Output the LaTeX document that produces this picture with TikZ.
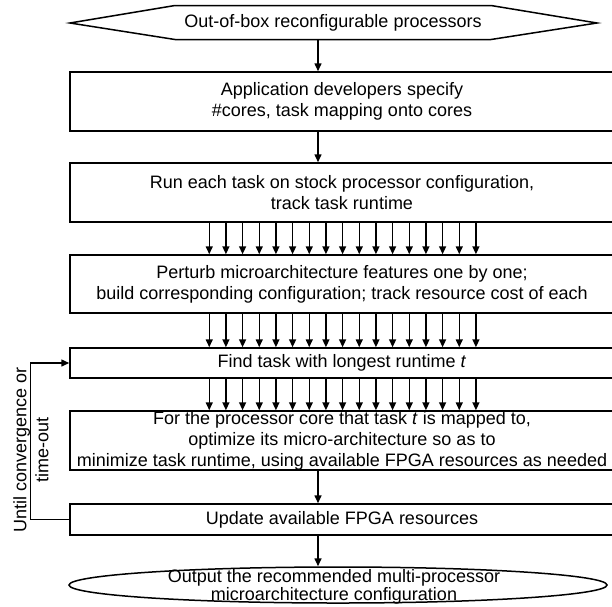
\documentclass[tikz,border=0pt]{standalone}
\usepackage{fontspec}
\setmainfont{Liberation Sans}
\usetikzlibrary{arrows.meta,calc,shapes.geometric}
\begin{document}
\begin{tikzpicture}[x=1pt,y=-1pt,
  line width=1.5pt,
  arr/.style={-{Triangle[length=8pt,width=7pt]}},
  txt/.style={font=\fontsize{18}{21}\selectfont, align=center, inner sep=0pt},
  box/.style={txt, draw, rectangle, minimum width=544pt}]
\useasboundingbox (0,0) rectangle (612,606);

% start hexagon
\draw (70,23) -- (175,5.5) -- (491,5.5) -- (597,23) -- (491,39.5) -- (175,39.5) -- cycle;
\node[txt] (start) at (333,22.5) {Out-of-box reconfigurable processors};
\coordinate (startbot) at (318,39.5);

\node[box, minimum height=59pt] (b1) at (342,101.5) {Application developers specify\\\#cores, task mapping onto cores};
\node[box, minimum height=59pt] (b2) at (342,192.5) {Run each task on stock processor configuration,\\track task runtime};
\node[box, minimum height=58pt] (b3) at (342,284) {Perturb microarchitecture features one by one;\\build corresponding configuration; track resource cost of each};
\node[box, minimum height=30pt] (b4) at (342,363) {Find task with longest runtime \textit{t}};
\node[box, minimum height=59pt] (b5) at (342,440.5) {For the processor core that task \textit{t} is mapped to,\\optimize its micro-architecture so as to\\minimize task runtime, using available FPGA resources as needed};
\node[box, minimum height=31pt] (b6) at (342,519.5) {Update available FPGA resources};
\node[draw, ellipse, minimum width=538pt, minimum height=36pt, inner sep=0pt] (out) at (338,585) {};
\node[txt, font=\fontsize{18}{15}\selectfont] (outtxt) at (334,587) {Output the recommended multi-processor\\microarchitecture configuration};

% single arrows
\draw[arr] (startbot) -- (b1.north -| startbot);
\draw[arr] (b1.south -| startbot) -- (b2.north -| startbot);
\draw[arr] (b5.south -| startbot) -- (b6.north -| startbot);
\draw[arr] (b6.south -| startbot) -- (out.north -| startbot);

% multiple arrows
\foreach \i in {0,...,16}{
  \draw[arr] ($(b2.south west)+(140+\i*16.667,0)$) -- ($(b3.north west)+(140+\i*16.667,0)$);
  \draw[arr] ($(b3.south west)+(140+\i*16.667,0)$) -- ($(b4.north west)+(140+\i*16.667,0)$);
  \draw[arr] ($(b4.south west)+(140+\i*16.667,0)$) -- ($(b5.north west)+(140+\i*16.667,0)$);
}

% loop back
\draw[arr] (b6.west) -- ++(-39,0) |- (b4.west);
\node[txt, rotate=90, font=\fontsize{18}{22}\selectfont] (loop) at (31,450) {Until convergence or\\time-out};
\end{tikzpicture}
\end{document}
